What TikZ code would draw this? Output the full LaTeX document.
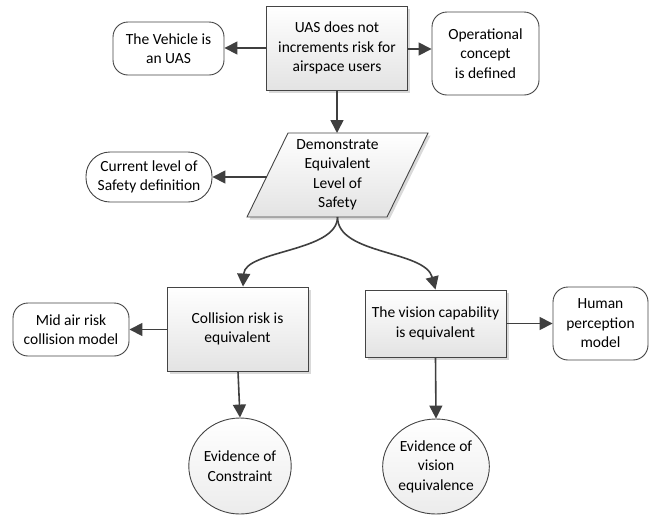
\documentclass[tikz,border=0pt]{standalone}
\usepackage{fontspec}
\setmainfont{Carlito}
\usetikzlibrary{arrows.meta,shadows,shapes.geometric}
\definecolor{edge}{HTML}{3F3F3F}
\definecolor{boxline}{HTML}{444444}
\begin{document}
\begin{tikzpicture}[x=1pt,y=-1pt,
  every node/.style={align=center, inner sep=2pt, font=\fontsize{15.5}{19.5}\selectfont},
  shade/.style={top color=white, bottom color=gray!22},
  dshadow/.style={drop shadow={shadow xshift=2.5pt, shadow yshift=-2.5pt, opacity=0.3, fill=gray}},
  procbox/.style={draw=boxline, line width=0.9pt, shade, dshadow},
  termbox/.style={draw=boxline, line width=0.9pt, fill=white, rounded corners=15pt},
  stadium/.style={draw=boxline, line width=0.9pt, fill=white, rounded corners=24pt},
  evidence/.style={ellipse, draw=boxline, line width=0.9pt, top color=white, bottom color=gray!15, inner sep=0pt},
  conn/.style={draw=edge, line width=1.6pt, -{Triangle[length=13pt,width=13pt]}}
]
\useasboundingbox (0,0) rectangle (650,515);

% top level claim and its context
\node[procbox, minimum width=141pt, minimum height=84pt] (uas) at (337,48)
  {UAS does not\\increments risk for\\airspace users};
\node[termbox, minimum width=111pt, minimum height=53pt] (veh) at (168.5,48.5)
  {The Vehicle is\\an UAS};
\node[termbox, minimum width=107pt, minimum height=83pt] (op) at (485.5,53.5)
  {Operational\\concept\\is defined};

% strategy (parallelogram)
\draw[draw=boxline, line width=0.9pt, shade, dshadow]
  (288,133) -- (428,133) -- (387,217) -- (247,217) -- cycle;
\node (els) at (337.5,175) {Demonstrate\\Equivalent\\Level of\\Safety};
\coordinate (els-top) at (337,133);
\coordinate (els-left) at (266.5,177);
\coordinate (els-bot) at (337.5,217);
\node[stadium, minimum width=126pt, minimum height=50pt] (cur) at (149,177)
  {Current level of\\Safety definition};

% sub-claims
\node[procbox, minimum width=141pt, minimum height=84pt] (coll) at (237.5,329)
  {Collision risk is\\equivalent};
\node[procbox, minimum width=141pt, minimum height=67pt] (vis) at (435.5,323.5)
  {The vision capability\\is equivalent};
\node[termbox, minimum width=116pt, minimum height=53pt] (mid) at (71,329.5)
  {Mid air risk\\collision model};
\node[termbox, minimum width=95pt, minimum height=73pt] (hum) at (600.5,323.5)
  {Human\\perception\\model};

% evidence
\node[evidence, minimum width=94pt, minimum height=96pt] (ev1) at (240,466)
  {Evidence of\\Constraint};
\node[evidence, minimum width=96pt, minimum height=95pt] (ev2) at (436,466.5)
  {Evidence of\\vision\\equivalence};

% connectors
\draw[conn] (uas.west |- 0,48) -- (veh.east |- 0,48);
\draw[conn] (uas.east |- 0,49) -- (op.west |- 0,49);
\draw[conn] (uas.south) -- (els-top);
\draw[conn] (els-left) -- (cur.east |- els-left);
\draw[conn] (els-bot) .. controls (337.5,252) and (245,250) .. ([xshift=5.5pt]coll.north);
\draw[conn] (els-bot) .. controls (337.5,255) and (425,250) .. (vis.north);
\draw[conn] (coll.west |- 0,329.5) -- (mid.east |- 0,329.5);
\draw[conn] (vis.east) -- (hum.west |- vis.east);
\draw[conn] ([xshift=0.5pt]coll.south) -- (ev1.north);
\draw[conn] (vis.south) -- (ev2.north);
\end{tikzpicture}
\end{document}
